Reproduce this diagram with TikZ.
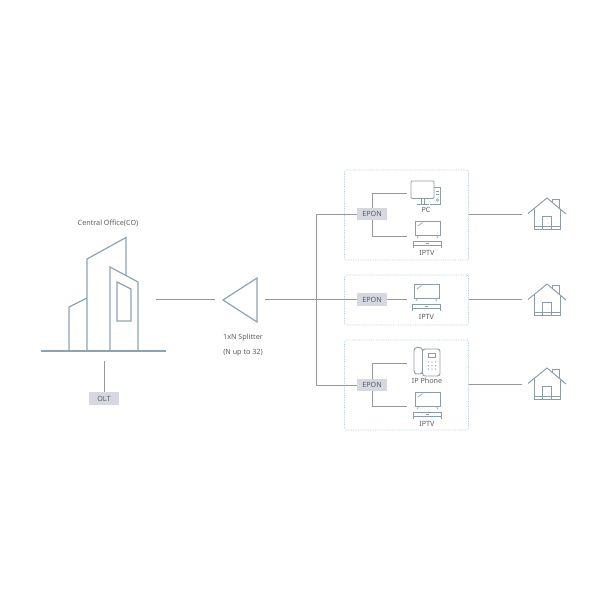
\documentclass[tikz,border=0pt]{standalone}
\usepackage{fontspec}
\setmainfont{Noto Sans}
\usetikzlibrary{positioning}
\definecolor{bldedge}{RGB}{140,163,179}
\definecolor{wire}{RGB}{150,152,155}
\definecolor{tagfill}{RGB}{214,216,225}
\definecolor{zoneedge}{RGB}{170,203,220}
\definecolor{icon}{RGB}{140,156,168}
\definecolor{inkgray}{RGB}{95,95,95}
\tikzset{
  bld/.style={draw=bldedge, line width=1.2pt, line join=miter},
  wireline/.style={draw=wire, line width=0.8pt},
  tag/.style={
    fill=tagfill, text=inkgray, font=\fontsize{7.2}{9}\selectfont,
    inner sep=0pt, minimum height=12.5pt
  },
  zone/.style={
    draw=zoneedge, densely dotted, line width=0.7pt, rounded corners=1.5pt,
    inner sep=0pt
  },
  lbl/.style={text=inkgray, font=\fontsize{7.2}{9}\selectfont, inner sep=0pt, align=center},
  ico/.style={draw=icon, line width=0.95pt},
  tvset/.pic={
    \draw[ico] (-12.5,0) rectangle (12.5,14.7);
    \draw[ico, line width=0.6pt] (-9.5,5) -- (-5,1.5);
    \draw[ico, line width=0.6pt] (-9,14.7) -- (-10.5,17) (9,14.7) -- (10.5,17);
    \draw[ico] (-14,26.5) -- (-14,20) -- (14,20) -- (14,26.5) (-14,24) -- (14,24);
    \draw[ico, line width=0.6pt] (-1.5,22) -- (1.5,22);
  },
  pcset/.pic={
    \draw[ico, rounded corners=1pt] (-11.5,0) rectangle (11.5,17.5);
    \draw[ico] (-1.5,17.5) -- (-1.5,22.5) (1.5,17.5) -- (1.5,22.5) (-6,23) -- (6,23);
    \draw[ico] (11.5,6.5) -- (18,6.5) -- (18,23) -- (7,23);
    \draw[ico, line width=0.6pt] (13,10) -- (16.5,10) (13,13) -- (16.5,13);
    \draw[ico, line width=0.6pt] (15,19) circle (1.2);
  },
  phoneset/.pic={
    \draw[ico, rounded corners=2.5pt] (-4.5,2) rectangle (13,29);
    \draw[ico, rounded corners=3pt] (-13,0.5) rectangle (-4.5,27);
    \draw[ico, line width=0.6pt] (1.5,6) rectangle (8.5,10.5);
    \foreach \dotx in {1.5,5,8.5}
      \foreach \doty in {15,18.5,22}
        \fill[icon] (\dotx,\doty) circle (0.7);
  },
  homeset/.pic={
    \draw[ico] (-19,15.5) -- (0,0) -- (19,16);
    \draw[ico] (5.5,4.5) -- (5.5,1) -- (12,1) -- (12,10);
    \draw[ico] (-13,11) -- (-13,31) -- (13,31) -- (13,11);
    \draw[ico] (-13,28) -- (13,28);
    \draw[ico] (-4.5,31) -- (-4.5,18) -- (4.5,18) -- (4.5,31);
    \fill[icon] (1,25) circle (0.5);
  }
}

\begin{document}
\begin{tikzpicture}[x=1pt, y=-1pt]
  \useasboundingbox (0,0) rectangle (600,600);

  % central office
  \draw[bld] (41,351) -- (166,351);
  \draw[bld] (69,351) -- (69,307) -- (87,298);
  \draw[bld] (87,351) -- (87,259) -- (126,237.5) -- (126,275);
  \draw[bld] (110,351) -- (110,267) -- (138,282) -- (138,351);
  \draw[bld] (117,282) -- (131,289) -- (131,321) -- (117,321) -- cycle;
  \node[lbl] (colabel) at (108,223) {Central Office(CO)};
  \coordinate (cofoot) at (104,361);
  \coordinate (coout) at (156,299.5);
  \node[tag, minimum width=30pt] (olt) at (104,398.5) {OLT};
  \draw[wireline] (cofoot) -- (olt);

  % splitter
  \draw[bld] (223,300) -- (257,278) -- (257,322) -- cycle;
  \coordinate (splitin) at (215,299.5);
  \coordinate (splitout) at (265,299.5);
  \node[lbl] (splitlabel) at (243,338) {1xN Splitter};
  \node[lbl, below=7pt of splitlabel] (splitmax) {(N up to 32)};
  \draw[wireline] (coout) -- (splitin);

  % subscriber groups
  \node[zone, minimum width=124pt, minimum height=90pt] (zonea) at (406.5,215) {};
  \node[zone, minimum width=124pt, minimum height=50pt] (zoneb) at (406.5,300) {};
  \node[zone, minimum width=124pt, minimum height=90pt] (zonec) at (406.5,385) {};

  \coordinate (trunk) at (316.5,299.5);
  \node[tag, minimum width=30pt] (epona) at (372,214) {EPON};
  \node[tag, minimum width=30pt] (eponb) at (372,299.5) {EPON};
  \node[tag, minimum width=30pt] (eponc) at (372,385) {EPON};
  \draw[wireline] (splitout) -- (eponb);
  \draw[wireline] (trunk) |- (epona);
  \draw[wireline] (trunk) |- (eponc);

  % end devices
  \coordinate (pcin) at (407,193);
  \coordinate (tvain) at (407,236);
  \coordinate (tvbin) at (407,299.5);
  \coordinate (phonein) at (407,363);
  \coordinate (tvcin) at (407,406);
  \draw[wireline] (epona) |- (pcin);
  \draw[wireline] (epona) |- (tvain);
  \draw[wireline] (eponb) -- (tvbin);
  \draw[wireline] (eponc) |- (phonein);
  \draw[wireline] (eponc) |- (tvcin);

  \pic at (422.5,181) {pcset};
  \pic at (427.5,221) {tvset};
  \pic at (426.5,284) {tvset};
  \pic at (427,347) {phoneset};
  \pic at (427.5,392) {tvset};
  \node[lbl] (pclabel) at (426,210) {PC};
  \node[lbl] (tvalabel) at (427,253) {IPTV};
  \node[lbl] (tvblabel) at (426.5,317) {IPTV};
  \node[lbl] (phonelabel) at (427,381) {IP Phone};
  \node[lbl] (tvclabel) at (427,424) {IPTV};

  % homes
  \coordinate (homea) at (522,214);
  \coordinate (homeb) at (522,299.5);
  \coordinate (homec) at (522,384);
  \draw[wireline] (zonea.east |- homea) -- (homea);
  \draw[wireline] (zoneb.east |- homeb) -- (homeb);
  \draw[wireline] (zonec.east |- homec) -- (homec);
  \pic at (547,198) {homeset};
  \pic at (547,284) {homeset};
  \pic at (547,368) {homeset};
\end{tikzpicture}
\end{document}
